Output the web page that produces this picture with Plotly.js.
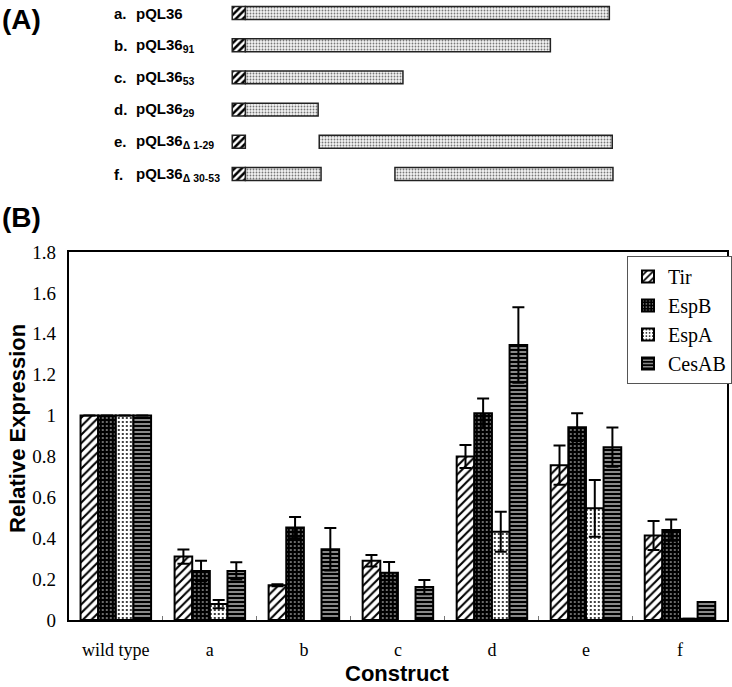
<!DOCTYPE html>
<html>
<head>
<meta charset="utf-8">
<script src="https://cdn.plot.ly/plotly-3.0.1.min.js"></script>
<style>
  html, body { margin: 0; padding: 0; background: #fff; }
  #chart { width: 732px; height: 687px; }
</style>
</head>
<body>
<div id="chart"></div>
<script>
// Panel B data
var constructs = ['wild type', 'a', 'b', 'c', 'd', 'e', 'f'];
var tir = [1, 0.31, 0.17, 0.29, 0.80, 0.757, 0.413];
var tirErr = [0, 0.035, 0.005, 0.028, 0.056, 0.096, 0.071];
var espB = [1, 0.24, 0.452, 0.231, 1.011, 0.943, 0.44];
var espBErr = [0, 0.05, 0.052, 0.053, 0.072, 0.068, 0.052];
var espA = [1, 0.078, null, null, 0.432, 0.546, 0.006];
var espAErr = [0, 0.02, null, null, 0.098, 0.139, 0];
var cesAB = [1, 0.24, 0.346, 0.161, 1.345, 0.845, 0.088];
var cesABErr = [0, 0.042, 0.104, 0.035, 0.185, 0.096, 0];

// Panel A constructs (row index, positions in relative units; full length = 100)
var rowLetters = ['a.', 'b.', 'c.', 'd.', 'e.', 'f.'];
var rowNames = ['pQL36', 'pQL36<sub>91</sub>', 'pQL36<sub>53</sub>', 'pQL36<sub>29</sub>',
                'pQL36<sub>\u0394 1-29</sub>', 'pQL36<sub>\u0394 30-53</sub>'];
var rows = [0, 1, 2, 3, 4, 5];
var tagStart = [-3.6, -3.6, -3.6, -3.6, -3.6, -3.6];
var tagEnd = [0, 0, 0, 0, 0, 0];
var seg1Start = [0, 0, 0, 0, 20.3, 0];
var seg1End = [100, 83.8, 43.3, 20, 100.8, 20.8];
var seg2Start = [null, null, null, null, null, 41.1];
var seg2End = [null, null, null, null, null, 101];

var W = 732, H = 687;
function px(x) { return x / W; }
function py(y) { return (H - y) / H; }

var serif = 'Liberation Serif, Times New Roman, serif';
var sans = 'Liberation Sans, Arial, sans-serif';

function barTrace(name, y, err, pattern) {
    return {
        type: 'bar',
        name: name,
        x: constructs,
        y: y,
        error_y: { type: 'data', array: err, visible: true, color: '#000', thickness: 2, width: 6 },
        marker: {
            color: pattern.bgcolor,
            line: { color: '#000', width: 2 },
            pattern: pattern
        },
        xaxis: 'x',
        yaxis: 'y'
    };
}

var traces = [
    barTrace('Tir', tir, tirErr, { shape: '/', bgcolor: '#fff', fgcolor: '#000', size: 6, solidity: 0.35, fillmode: 'replace' }),
    barTrace('EspB', espB, espBErr, { shape: '.', bgcolor: '#000', fgcolor: '#fff', size: 4, solidity: 0.12, fillmode: 'replace' }),
    barTrace('EspA', espA, espAErr, { shape: '.', bgcolor: '#fff', fgcolor: '#000', size: 4, solidity: 0.2, fillmode: 'replace' }),
    barTrace('CesAB', cesAB, cesABErr, { shape: '-', bgcolor: '#888', fgcolor: '#000', size: 4, solidity: 0.5, fillmode: 'replace' })
];

function segTrace(starts, ends, pattern, lineW) {
    return {
        type: 'bar',
        orientation: 'h',
        y: rows,
        base: starts,
        x: starts.map(function (s, i) { return s === null ? null : ends[i] - s; }),
        width: 0.4,
        offset: -0.2,
        marker: { color: pattern.bgcolor, line: { color: '#222', width: lineW }, pattern: pattern },
        showlegend: false,
        hoverinfo: 'skip',
        xaxis: 'x2',
        yaxis: 'y2'
    };
}

var dotPat = { shape: '.', bgcolor: '#f4f4f4', fgcolor: '#777', size: 3, solidity: 0.3, fillmode: 'replace' };
var tagPat = { shape: '/', bgcolor: '#fff', fgcolor: '#000', size: 5, solidity: 0.5, fillmode: 'replace' };
traces.push(segTrace(seg1Start, seg1End, dotPat, 1.5));
traces.push(segTrace(seg2Start, seg2End, dotPat, 1.5));
traces.push(segTrace(tagStart, tagEnd, tagPat, 1.5));

var annotations = [
    { text: '<b>(A)</b>', x: 0, y: py(2), xref: 'paper', yref: 'paper', xanchor: 'left', yanchor: 'top', showarrow: false, font: { family: sans, size: 28, color: '#000' } },
    { text: '<b>(B)</b>', x: 0, y: py(200), xref: 'paper', yref: 'paper', xanchor: 'left', yanchor: 'top', showarrow: false, font: { family: sans, size: 28, color: '#000' } },
    { text: '<b>Relative Expression</b>', x: px(17), y: py(428), xref: 'paper', yref: 'paper', xanchor: 'center', yanchor: 'middle', textangle: -90, showarrow: false, font: { family: sans, size: 22, color: '#000' } },
    { text: '<b>Construct</b>', x: px(399), y: py(673), xref: 'paper', yref: 'paper', xanchor: 'center', yanchor: 'middle', showarrow: false, font: { family: sans, size: 22, color: '#000' } }
];
rows.forEach(function (r) {
    annotations.push({ text: '<b>' + rowLetters[r] + '</b>', x: px(112), y: r, xref: 'paper', yref: 'y2', xanchor: 'left', yanchor: 'middle', showarrow: false, font: { family: sans, size: 15, color: '#000' } });
    annotations.push({ text: '<b>' + rowNames[r] + '</b>', x: px(134), y: r, xref: 'paper', yref: 'y2', xanchor: 'left', yanchor: 'middle', showarrow: false, font: { family: sans, size: 15, color: '#000' } });
});

var layout = {
    width: W,
    height: H,
    margin: { l: 0, r: 0, t: 0, b: 0 },
    paper_bgcolor: '#fff',
    plot_bgcolor: '#fff',
    barmode: 'group',
    bargap: 0.25,
    bargroupgap: 0,
    xaxis: {
        domain: [px(69), px(729)],
        anchor: 'y',
        type: 'category',
        showline: true, linecolor: '#000', linewidth: 2, mirror: true,
        ticks: 'inside', tickson: 'boundaries', ticklen: 4, tickcolor: '#777', tickwidth: 1,
        showgrid: false, zeroline: false,
        tickfont: { family: serif, size: 18, color: '#000' },
        ticklabelstandoff: 12
    },
    yaxis: {
        domain: [py(620), py(252)],
        anchor: 'x',
        range: [0, 1.8],
        dtick: 0.2,
        showline: true, linecolor: '#000', linewidth: 2, mirror: true,
        ticks: '', showgrid: false, zeroline: false,
        tickfont: { family: serif, size: 19, color: '#000' },
        ticklabelstandoff: 7
    },
    xaxis2: {
        domain: [0, 1],
        anchor: 'y2',
        range: [-67.4, 133.15],
        visible: false
    },
    yaxis2: {
        domain: [py(190), 1],
        anchor: 'x2',
        range: [5.497, -0.404],
        visible: false
    },
    showlegend: true,
    legend: {
        x: px(629), y: py(256), xanchor: 'left', yanchor: 'top',
        bgcolor: '#fff', bordercolor: '#555', borderwidth: 1,
        font: { family: serif, size: 20, color: '#000' },
        traceorder: 'normal'
    },
    annotations: annotations
};

Plotly.newPlot('chart', traces, layout, { displayModeBar: false, staticPlot: true });
</script>
</body>
</html>
